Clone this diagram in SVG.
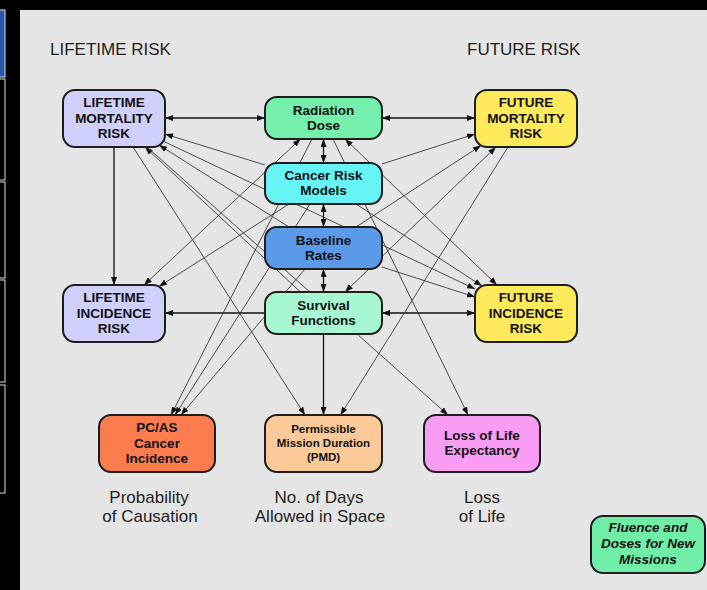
<svg xmlns="http://www.w3.org/2000/svg" width="707" height="590" viewBox="0 0 707 590">
<defs>
<style>
.node rect{stroke:#1e1e1e;stroke-width:2}
.lbl{font-family:"Liberation Sans",Arial,sans-serif;font-weight:bold;font-size:13.5px;fill:#111;text-anchor:middle}
.sm{font-size:11.5px}
.it{font-style:italic}
.title{font-family:"Liberation Sans",Arial,sans-serif;font-size:17px;fill:#1e1e1e}
.cap{font-family:"Liberation Sans",Arial,sans-serif;font-size:17px;fill:#1e1e1e;text-anchor:middle}
.main{stroke:#111;stroke-width:1.3;fill:none}
.diag{stroke:#3a3a3a;stroke-width:0.9;fill:none}
.side{fill:#000;stroke:#e0e0e0;stroke-width:1}
</style>
<marker id="ah" markerUnits="userSpaceOnUse" markerWidth="8" markerHeight="6" refX="8" refY="3" orient="auto-start-reverse">
<path d="M0,0 L8,3 L0,6 z" fill="#111"/>
</marker>
</defs>
<rect x="0" y="0" width="707" height="590" fill="#000"/>
<rect x="20" y="10" width="687" height="580" fill="#e5e5e5"/>
<g id="sidebar">
<rect x="-1" y="10" width="6" height="67" fill="#2457a8" stroke="#e0e0e0" stroke-width="1"/>
<rect class="side" x="-1" y="79" width="6" height="101"/>
<rect class="side" x="-1" y="182" width="6" height="96"/>
<rect class="side" x="-1" y="280" width="6" height="102"/>
<rect class="side" x="-1" y="385" width="6" height="108"/>
</g>
<text class="title" x="50" y="55">LIFETIME RISK</text>
<text class="title" x="467" y="55">FUTURE RISK</text>
<g id="connectors">
<line class="main" x1="265" y1="118" x2="165" y2="118" marker-start="url(#ah)" marker-end="url(#ah)"/>
<line class="main" x1="382" y1="118" x2="475" y2="118" marker-start="url(#ah)" marker-end="url(#ah)"/>
<line class="main" x1="323.5" y1="139" x2="323.5" y2="163" marker-start="url(#ah)" marker-end="url(#ah)"/>
<line class="main" x1="323.5" y1="204" x2="323.5" y2="227" marker-start="url(#ah)" marker-end="url(#ah)"/>
<line class="main" x1="323.5" y1="269" x2="323.5" y2="292" marker-start="url(#ah)" marker-end="url(#ah)"/>
<line class="main" x1="265" y1="313" x2="165" y2="313" marker-end="url(#ah)"/>
<line class="main" x1="382" y1="313" x2="475" y2="313" marker-start="url(#ah)" marker-end="url(#ah)"/>
<line class="main" x1="114" y1="147" x2="114" y2="285" marker-end="url(#ah)"/>
<line class="main" x1="323.5" y1="334" x2="323.5" y2="415" marker-end="url(#ah)"/>
<line class="diag" x1="265" y1="165" x2="165" y2="134" marker-end="url(#ah)"/>
<line class="diag" x1="289" y1="227" x2="159" y2="145" marker-end="url(#ah)"/>
<line class="diag" x1="300.5" y1="292" x2="145" y2="147" marker-end="url(#ah)"/>
<line class="diag" x1="382" y1="164" x2="475" y2="134" marker-end="url(#ah)"/>
<line class="diag" x1="356" y1="227" x2="481" y2="145.5" marker-end="url(#ah)"/>
<line class="diag" x1="345" y1="292" x2="496" y2="147" marker-start="url(#ah)" marker-end="url(#ah)"/>
<line class="diag" x1="300.5" y1="139" x2="144" y2="285" marker-start="url(#ah)" marker-end="url(#ah)"/>
<line class="diag" x1="289" y1="204" x2="159" y2="286.5" marker-end="url(#ah)"/>
<line class="diag" x1="345" y1="139" x2="497" y2="285" marker-start="url(#ah)" marker-end="url(#ah)"/>
<line class="diag" x1="356" y1="204" x2="482" y2="286" marker-end="url(#ah)"/>
<line class="diag" x1="382" y1="267" x2="475" y2="297" marker-end="url(#ah)"/>
<line class="diag" x1="163" y1="141" x2="475" y2="289" marker-end="url(#ah)"/>
<line class="diag" x1="312" y1="139" x2="171" y2="415" marker-end="url(#ah)"/>
<line class="diag" x1="310" y1="204" x2="175" y2="415" marker-end="url(#ah)"/>
<line class="diag" x1="305" y1="269" x2="181" y2="415" marker-end="url(#ah)"/>
<line class="diag" x1="133" y1="147" x2="305" y2="415" marker-end="url(#ah)"/>
<line class="diag" x1="508" y1="147" x2="340.5" y2="415" marker-end="url(#ah)"/>
<line class="diag" x1="147" y1="147" x2="448" y2="415" marker-end="url(#ah)"/>
<line class="diag" x1="333" y1="139" x2="468" y2="415" marker-end="url(#ah)"/>
</g>
<g id="lifetime-mortality" class="node">
<rect x="63" y="90" width="102" height="57" rx="12" fill="#cfd0fc"/>
<text class="lbl" x="114" y="107">LIFETIME</text>
<text class="lbl" x="114" y="122.5">MORTALITY</text>
<text class="lbl" x="114" y="138">RISK</text>
</g>
<g id="lifetime-incidence" class="node">
<rect x="63" y="285" width="102" height="57" rx="12" fill="#cfd0fc"/>
<text class="lbl" x="114" y="302">LIFETIME</text>
<text class="lbl" x="114" y="318">INCIDENCE</text>
<text class="lbl" x="114" y="333">RISK</text>
</g>
<g id="future-mortality" class="node">
<rect x="475" y="90" width="102" height="57" rx="12" fill="#ffea5c"/>
<text class="lbl" x="526" y="107">FUTURE</text>
<text class="lbl" x="526" y="122.5">MORTALITY</text>
<text class="lbl" x="526" y="138">RISK</text>
</g>
<g id="future-incidence" class="node">
<rect x="475" y="285" width="102" height="57" rx="12" fill="#ffea5c"/>
<text class="lbl" x="526" y="302">FUTURE</text>
<text class="lbl" x="526" y="318">INCIDENCE</text>
<text class="lbl" x="526" y="333">RISK</text>
</g>
<g id="radiation-dose" class="node">
<rect x="265" y="97" width="117" height="42" rx="12" fill="#74efac"/>
<text class="lbl" x="323.5" y="115">Radiation</text>
<text class="lbl" x="323.5" y="130">Dose</text>
</g>
<g id="cancer-risk-models" class="node">
<rect x="265" y="163" width="117" height="41" rx="12" fill="#66f4f6"/>
<text class="lbl" x="323.5" y="180">Cancer Risk</text>
<text class="lbl" x="323.5" y="195">Models</text>
</g>
<g id="baseline-rates" class="node">
<rect x="265" y="227" width="117" height="42" rx="12" fill="#5b9ae8"/>
<text class="lbl" x="323.5" y="245">Baseline</text>
<text class="lbl" x="323.5" y="260">Rates</text>
</g>
<g id="survival-functions" class="node">
<rect x="265" y="292" width="117" height="42" rx="12" fill="#a8f7d3"/>
<text class="lbl" x="323.5" y="310">Survival</text>
<text class="lbl" x="323.5" y="325">Functions</text>
</g>
<g id="pcas" class="node">
<rect x="99" y="415" width="116" height="57" rx="12" fill="#fb7c4e"/>
<text class="lbl" x="157" y="432">PC/AS</text>
<text class="lbl" x="157" y="448">Cancer</text>
<text class="lbl" x="157" y="463">Incidence</text>
</g>
<g id="pmd" class="node">
<rect x="265" y="415" width="117" height="57" rx="12" fill="#fcca98"/>
<text class="lbl sm" x="323.5" y="433">Permissible</text>
<text class="lbl sm" x="323.5" y="447">Mission Duration</text>
<text class="lbl sm" x="323.5" y="461">(PMD)</text>
</g>
<g id="loss-of-life" class="node">
<rect x="424" y="415" width="116" height="57" rx="12" fill="#f99cf3"/>
<text class="lbl" x="482" y="440">Loss of Life</text>
<text class="lbl" x="482" y="455">Expectancy</text>
</g>
<g id="fluence" class="node">
<rect x="591" y="516" width="114" height="57" rx="12" fill="#70eea8"/>
<text class="lbl it" x="648" y="532">Fluence and</text>
<text class="lbl it" x="648" y="548">Doses for New</text>
<text class="lbl it" x="648" y="564">Missions</text>
</g>
<text class="cap" x="149" y="503">Probability</text>
<text class="cap" x="150" y="522">of Causation</text>
<text class="cap" x="319" y="503">No. of Days</text>
<text class="cap" x="320" y="522">Allowed in Space</text>
<text class="cap" x="482" y="503">Loss</text>
<text class="cap" x="482" y="522">of Life</text>
</svg>
